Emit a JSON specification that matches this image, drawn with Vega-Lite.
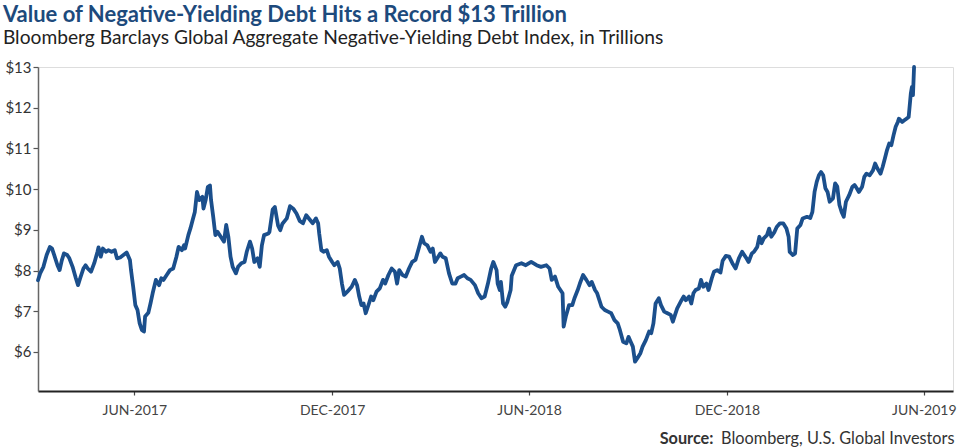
{
  "$schema": "https://vega.github.io/schema/vega-lite/v6.json",
  "width": 915,
  "height": 324,
  "autosize": {"type": "none"},
  "padding": {"left": 38, "top": 67, "right": 7, "bottom": 56},
  "background": "white",
  "title": {
    "text": "Value of Negative-Yielding Debt Hits a Record $13 Trillion",
    "subtitle": "Bloomberg Barclays Global Aggregate Negative-Yielding Debt Index, in Trillions",
    "anchor": "start",
    "frame": "bounds",
    "font": "Lato",
    "fontSize": 22,
    "fontWeight": "bold",
    "color": "#1d4a7c",
    "subtitleFont": "Lato",
    "subtitleFontSize": 19.2,
    "subtitleColor": "#222222",
    "subtitlePadding": 2,
    "offset": 11,
    "dx": -2
  },
  "data": {
    "values": [
      {"date": "2017-03-18", "value": 7.76},
      {"date": "2017-03-20", "value": 7.93},
      {"date": "2017-03-23", "value": 8.09},
      {"date": "2017-03-26", "value": 8.38},
      {"date": "2017-03-29", "value": 8.58},
      {"date": "2017-03-31", "value": 8.54},
      {"date": "2017-04-02", "value": 8.38},
      {"date": "2017-04-05", "value": 8.13},
      {"date": "2017-04-07", "value": 8.01},
      {"date": "2017-04-09", "value": 8.25},
      {"date": "2017-04-11", "value": 8.42},
      {"date": "2017-04-14", "value": 8.38},
      {"date": "2017-04-16", "value": 8.30},
      {"date": "2017-04-19", "value": 8.09},
      {"date": "2017-04-22", "value": 7.81},
      {"date": "2017-04-24", "value": 7.64},
      {"date": "2017-04-26", "value": 7.81},
      {"date": "2017-04-29", "value": 8.05},
      {"date": "2017-05-01", "value": 8.13},
      {"date": "2017-05-03", "value": 8.05},
      {"date": "2017-05-06", "value": 7.97},
      {"date": "2017-05-09", "value": 8.18},
      {"date": "2017-05-12", "value": 8.46},
      {"date": "2017-05-13", "value": 8.57},
      {"date": "2017-05-15", "value": 8.34},
      {"date": "2017-05-17", "value": 8.54},
      {"date": "2017-05-20", "value": 8.46},
      {"date": "2017-05-22", "value": 8.50},
      {"date": "2017-05-25", "value": 8.46},
      {"date": "2017-05-28", "value": 8.50},
      {"date": "2017-05-30", "value": 8.30},
      {"date": "2017-06-02", "value": 8.32},
      {"date": "2017-06-05", "value": 8.38},
      {"date": "2017-06-08", "value": 8.44},
      {"date": "2017-06-11", "value": 8.26},
      {"date": "2017-06-12", "value": 8.01},
      {"date": "2017-06-14", "value": 7.60},
      {"date": "2017-06-16", "value": 7.15},
      {"date": "2017-06-18", "value": 7.03},
      {"date": "2017-06-20", "value": 6.70},
      {"date": "2017-06-22", "value": 6.54},
      {"date": "2017-06-24", "value": 6.50},
      {"date": "2017-06-25", "value": 6.87},
      {"date": "2017-06-28", "value": 6.96},
      {"date": "2017-06-30", "value": 7.19},
      {"date": "2017-07-02", "value": 7.44},
      {"date": "2017-07-05", "value": 7.77},
      {"date": "2017-07-08", "value": 7.64},
      {"date": "2017-07-10", "value": 7.81},
      {"date": "2017-07-12", "value": 7.77},
      {"date": "2017-07-15", "value": 7.89},
      {"date": "2017-07-18", "value": 8.01},
      {"date": "2017-07-21", "value": 8.05},
      {"date": "2017-07-24", "value": 8.34},
      {"date": "2017-07-26", "value": 8.58},
      {"date": "2017-07-29", "value": 8.50},
      {"date": "2017-07-31", "value": 8.62},
      {"date": "2017-08-01", "value": 8.54},
      {"date": "2017-08-04", "value": 8.87},
      {"date": "2017-08-06", "value": 9.04},
      {"date": "2017-08-08", "value": 9.24},
      {"date": "2017-08-10", "value": 9.44},
      {"date": "2017-08-12", "value": 9.93},
      {"date": "2017-08-14", "value": 9.73},
      {"date": "2017-08-17", "value": 9.81},
      {"date": "2017-08-18", "value": 9.52},
      {"date": "2017-08-20", "value": 9.73},
      {"date": "2017-08-22", "value": 10.05},
      {"date": "2017-08-24", "value": 10.09},
      {"date": "2017-08-25", "value": 9.73},
      {"date": "2017-08-27", "value": 9.32},
      {"date": "2017-08-29", "value": 8.87},
      {"date": "2017-08-31", "value": 8.95},
      {"date": "2017-09-03", "value": 8.83},
      {"date": "2017-09-06", "value": 8.71},
      {"date": "2017-09-08", "value": 9.12},
      {"date": "2017-09-10", "value": 8.83},
      {"date": "2017-09-12", "value": 8.34},
      {"date": "2017-09-14", "value": 8.09},
      {"date": "2017-09-17", "value": 7.93},
      {"date": "2017-09-19", "value": 8.09},
      {"date": "2017-09-22", "value": 8.18},
      {"date": "2017-09-25", "value": 8.21},
      {"date": "2017-09-27", "value": 8.46},
      {"date": "2017-09-30", "value": 8.71},
      {"date": "2017-10-02", "value": 8.54},
      {"date": "2017-10-04", "value": 8.21},
      {"date": "2017-10-07", "value": 8.30},
      {"date": "2017-10-09", "value": 8.09},
      {"date": "2017-10-11", "value": 8.62},
      {"date": "2017-10-13", "value": 8.87},
      {"date": "2017-10-17", "value": 8.91},
      {"date": "2017-10-18", "value": 8.95},
      {"date": "2017-10-21", "value": 9.50},
      {"date": "2017-10-23", "value": 9.56},
      {"date": "2017-10-26", "value": 9.10},
      {"date": "2017-10-28", "value": 8.99},
      {"date": "2017-10-30", "value": 9.15},
      {"date": "2017-11-03", "value": 9.28},
      {"date": "2017-11-06", "value": 9.58},
      {"date": "2017-11-09", "value": 9.52},
      {"date": "2017-11-12", "value": 9.40},
      {"date": "2017-11-15", "value": 9.22},
      {"date": "2017-11-18", "value": 9.16},
      {"date": "2017-11-21", "value": 9.36},
      {"date": "2017-11-24", "value": 9.26},
      {"date": "2017-11-27", "value": 9.16},
      {"date": "2017-11-30", "value": 9.28},
      {"date": "2017-12-02", "value": 9.16},
      {"date": "2017-12-03", "value": 8.91},
      {"date": "2017-12-05", "value": 8.50},
      {"date": "2017-12-07", "value": 8.46},
      {"date": "2017-12-10", "value": 8.50},
      {"date": "2017-12-12", "value": 8.34},
      {"date": "2017-12-15", "value": 8.21},
      {"date": "2017-12-17", "value": 8.13},
      {"date": "2017-12-20", "value": 8.21},
      {"date": "2017-12-22", "value": 8.05},
      {"date": "2017-12-24", "value": 7.68},
      {"date": "2017-12-26", "value": 7.40},
      {"date": "2017-12-29", "value": 7.48},
      {"date": "2018-01-02", "value": 7.60},
      {"date": "2018-01-05", "value": 7.77},
      {"date": "2018-01-07", "value": 7.64},
      {"date": "2018-01-09", "value": 7.36},
      {"date": "2018-01-11", "value": 7.15},
      {"date": "2018-01-13", "value": 7.19},
      {"date": "2018-01-15", "value": 6.95},
      {"date": "2018-01-18", "value": 7.19},
      {"date": "2018-01-20", "value": 7.36},
      {"date": "2018-01-22", "value": 7.27},
      {"date": "2018-01-25", "value": 7.48},
      {"date": "2018-01-28", "value": 7.56},
      {"date": "2018-01-31", "value": 7.77},
      {"date": "2018-02-02", "value": 7.68},
      {"date": "2018-02-05", "value": 7.89},
      {"date": "2018-02-08", "value": 8.05},
      {"date": "2018-02-11", "value": 7.97},
      {"date": "2018-02-13", "value": 7.68},
      {"date": "2018-02-15", "value": 8.01},
      {"date": "2018-02-18", "value": 7.89},
      {"date": "2018-02-21", "value": 7.85},
      {"date": "2018-02-24", "value": 8.05},
      {"date": "2018-02-27", "value": 8.21},
      {"date": "2018-03-02", "value": 8.26},
      {"date": "2018-03-05", "value": 8.54},
      {"date": "2018-03-08", "value": 8.83},
      {"date": "2018-03-10", "value": 8.67},
      {"date": "2018-03-13", "value": 8.62},
      {"date": "2018-03-16", "value": 8.46},
      {"date": "2018-03-18", "value": 8.54},
      {"date": "2018-03-20", "value": 8.21},
      {"date": "2018-03-23", "value": 8.34},
      {"date": "2018-03-25", "value": 8.42},
      {"date": "2018-03-27", "value": 8.34},
      {"date": "2018-03-30", "value": 8.30},
      {"date": "2018-04-02", "value": 7.93},
      {"date": "2018-04-05", "value": 7.68},
      {"date": "2018-04-08", "value": 7.68},
      {"date": "2018-04-10", "value": 7.81},
      {"date": "2018-04-13", "value": 7.85},
      {"date": "2018-04-16", "value": 7.89},
      {"date": "2018-04-19", "value": 7.81},
      {"date": "2018-04-22", "value": 7.77},
      {"date": "2018-04-26", "value": 7.64},
      {"date": "2018-04-29", "value": 7.44},
      {"date": "2018-05-02", "value": 7.32},
      {"date": "2018-05-05", "value": 7.36},
      {"date": "2018-05-08", "value": 7.68},
      {"date": "2018-05-11", "value": 8.05},
      {"date": "2018-05-13", "value": 8.21},
      {"date": "2018-05-16", "value": 8.01},
      {"date": "2018-05-17", "value": 7.68},
      {"date": "2018-05-19", "value": 7.52},
      {"date": "2018-05-20", "value": 7.72},
      {"date": "2018-05-22", "value": 7.19},
      {"date": "2018-05-24", "value": 7.11},
      {"date": "2018-05-26", "value": 7.23},
      {"date": "2018-05-29", "value": 7.52},
      {"date": "2018-05-30", "value": 7.87},
      {"date": "2018-06-03", "value": 8.13},
      {"date": "2018-06-08", "value": 8.18},
      {"date": "2018-06-12", "value": 8.13},
      {"date": "2018-06-17", "value": 8.21},
      {"date": "2018-06-22", "value": 8.13},
      {"date": "2018-06-26", "value": 8.09},
      {"date": "2018-07-01", "value": 8.13},
      {"date": "2018-07-04", "value": 8.05},
      {"date": "2018-07-06", "value": 7.77},
      {"date": "2018-07-09", "value": 7.85},
      {"date": "2018-07-12", "value": 7.60},
      {"date": "2018-07-14", "value": 7.52},
      {"date": "2018-07-16", "value": 7.44},
      {"date": "2018-07-17", "value": 6.62},
      {"date": "2018-07-19", "value": 6.87},
      {"date": "2018-07-22", "value": 7.15},
      {"date": "2018-07-25", "value": 7.15},
      {"date": "2018-07-27", "value": 7.32},
      {"date": "2018-07-30", "value": 7.52},
      {"date": "2018-08-01", "value": 7.68},
      {"date": "2018-08-04", "value": 7.89},
      {"date": "2018-08-07", "value": 7.77},
      {"date": "2018-08-10", "value": 7.64},
      {"date": "2018-08-12", "value": 7.72},
      {"date": "2018-08-15", "value": 7.52},
      {"date": "2018-08-17", "value": 7.44},
      {"date": "2018-08-21", "value": 7.11},
      {"date": "2018-08-24", "value": 7.03},
      {"date": "2018-08-27", "value": 6.99},
      {"date": "2018-08-30", "value": 6.95},
      {"date": "2018-09-02", "value": 6.78},
      {"date": "2018-09-05", "value": 6.70},
      {"date": "2018-09-07", "value": 6.54},
      {"date": "2018-09-10", "value": 6.25},
      {"date": "2018-09-13", "value": 6.21},
      {"date": "2018-09-15", "value": 6.37},
      {"date": "2018-09-17", "value": 6.25},
      {"date": "2018-09-19", "value": 6.13},
      {"date": "2018-09-21", "value": 5.76},
      {"date": "2018-09-23", "value": 5.84},
      {"date": "2018-09-26", "value": 5.97},
      {"date": "2018-09-28", "value": 6.13},
      {"date": "2018-10-01", "value": 6.29},
      {"date": "2018-10-04", "value": 6.50},
      {"date": "2018-10-06", "value": 6.46},
      {"date": "2018-10-08", "value": 6.70},
      {"date": "2018-10-10", "value": 7.19},
      {"date": "2018-10-13", "value": 7.32},
      {"date": "2018-10-15", "value": 7.15},
      {"date": "2018-10-18", "value": 6.99},
      {"date": "2018-10-21", "value": 6.95},
      {"date": "2018-10-24", "value": 6.91},
      {"date": "2018-10-26", "value": 6.74},
      {"date": "2018-10-28", "value": 6.91},
      {"date": "2018-10-30", "value": 7.07},
      {"date": "2018-11-03", "value": 7.27},
      {"date": "2018-11-05", "value": 7.36},
      {"date": "2018-11-07", "value": 7.27},
      {"date": "2018-11-10", "value": 7.36},
      {"date": "2018-11-12", "value": 7.19},
      {"date": "2018-11-14", "value": 7.44},
      {"date": "2018-11-16", "value": 7.52},
      {"date": "2018-11-19", "value": 7.56},
      {"date": "2018-11-21", "value": 7.77},
      {"date": "2018-11-23", "value": 7.60},
      {"date": "2018-11-26", "value": 7.68},
      {"date": "2018-11-28", "value": 7.52},
      {"date": "2018-12-01", "value": 7.81},
      {"date": "2018-12-03", "value": 7.97},
      {"date": "2018-12-06", "value": 8.01},
      {"date": "2018-12-09", "value": 7.95},
      {"date": "2018-12-11", "value": 8.24},
      {"date": "2018-12-14", "value": 8.36},
      {"date": "2018-12-17", "value": 8.34},
      {"date": "2018-12-20", "value": 8.18},
      {"date": "2018-12-23", "value": 8.05},
      {"date": "2018-12-26", "value": 8.30},
      {"date": "2018-12-29", "value": 8.46},
      {"date": "2019-01-02", "value": 8.30},
      {"date": "2019-01-04", "value": 8.21},
      {"date": "2019-01-07", "value": 8.42},
      {"date": "2019-01-09", "value": 8.46},
      {"date": "2019-01-12", "value": 8.58},
      {"date": "2019-01-14", "value": 8.83},
      {"date": "2019-01-16", "value": 8.67},
      {"date": "2019-01-18", "value": 8.79},
      {"date": "2019-01-21", "value": 8.87},
      {"date": "2019-01-23", "value": 9.03},
      {"date": "2019-01-25", "value": 8.83},
      {"date": "2019-01-28", "value": 8.95},
      {"date": "2019-01-30", "value": 9.07},
      {"date": "2019-02-02", "value": 9.16},
      {"date": "2019-02-05", "value": 9.16},
      {"date": "2019-02-08", "value": 9.03},
      {"date": "2019-02-10", "value": 8.83},
      {"date": "2019-02-11", "value": 8.46},
      {"date": "2019-02-14", "value": 8.38},
      {"date": "2019-02-16", "value": 8.42},
      {"date": "2019-02-18", "value": 9.03},
      {"date": "2019-02-21", "value": 9.12},
      {"date": "2019-02-23", "value": 9.28},
      {"date": "2019-02-27", "value": 9.32},
      {"date": "2019-03-02", "value": 9.29},
      {"date": "2019-03-04", "value": 9.44},
      {"date": "2019-03-06", "value": 9.93},
      {"date": "2019-03-08", "value": 10.18},
      {"date": "2019-03-10", "value": 10.34},
      {"date": "2019-03-12", "value": 10.42},
      {"date": "2019-03-14", "value": 10.34},
      {"date": "2019-03-16", "value": 10.02},
      {"date": "2019-03-18", "value": 9.93},
      {"date": "2019-03-20", "value": 9.69},
      {"date": "2019-03-23", "value": 9.77},
      {"date": "2019-03-25", "value": 10.14},
      {"date": "2019-03-27", "value": 10.06},
      {"date": "2019-03-29", "value": 9.61},
      {"date": "2019-03-31", "value": 9.44},
      {"date": "2019-04-02", "value": 9.32},
      {"date": "2019-04-04", "value": 9.69},
      {"date": "2019-04-07", "value": 9.85},
      {"date": "2019-04-10", "value": 10.06},
      {"date": "2019-04-12", "value": 10.10},
      {"date": "2019-04-14", "value": 10.02},
      {"date": "2019-04-16", "value": 9.93},
      {"date": "2019-04-19", "value": 10.06},
      {"date": "2019-04-21", "value": 10.30},
      {"date": "2019-04-23", "value": 10.38},
      {"date": "2019-04-26", "value": 10.34},
      {"date": "2019-04-29", "value": 10.46},
      {"date": "2019-05-01", "value": 10.63},
      {"date": "2019-05-03", "value": 10.51},
      {"date": "2019-05-06", "value": 10.38},
      {"date": "2019-05-08", "value": 10.55},
      {"date": "2019-05-10", "value": 10.75},
      {"date": "2019-05-12", "value": 10.96},
      {"date": "2019-05-14", "value": 11.12},
      {"date": "2019-05-16", "value": 11.08},
      {"date": "2019-05-18", "value": 11.32},
      {"date": "2019-05-20", "value": 11.53},
      {"date": "2019-05-22", "value": 11.65},
      {"date": "2019-05-23", "value": 11.73},
      {"date": "2019-05-26", "value": 11.65},
      {"date": "2019-05-28", "value": 11.69},
      {"date": "2019-05-30", "value": 11.73},
      {"date": "2019-06-01", "value": 11.77},
      {"date": "2019-06-03", "value": 12.35},
      {"date": "2019-06-04", "value": 12.51},
      {"date": "2019-06-05", "value": 12.31},
      {"date": "2019-06-06", "value": 13.0}
    ]
  },
  "layer": [
    {
      "mark": {"type": "line", "color": "#1b4f8c", "strokeWidth": 3.8, "strokeJoin": "round", "strokeCap": "round"},
      "encoding": {
        "x": {
          "field": "date",
          "type": "temporal",
          "scale": {
            "type": "utc",
            "domain": [
              {"year": 2017, "month": 3, "date": 18, "utc": true},
              {"year": 2019, "month": 7, "date": 12, "utc": true}
            ]
          },
          "axis": {
            "values": [
              {"year": 2017, "month": 6, "date": 15, "utc": true},
              {"year": 2017, "month": 12, "date": 15, "utc": true},
              {"year": 2018, "month": 6, "date": 15, "utc": true},
              {"year": 2018, "month": 12, "date": 15, "utc": true},
              {"year": 2019, "month": 6, "date": 15, "utc": true}
            ],
            "labelExpr": "upper(utcFormat(datum.value, '%b-%Y'))",
            "grid": false,
            "domainColor": "#222222",
            "domainWidth": 2,
            "tickColor": "#444444",
            "tickSize": 4,
            "tickWidth": 1.2,
            "labelFont": "Lato",
            "labelFontSize": 14,
            "labelColor": "#444444",
            "labelPadding": 8,
            "labelFlush": false,
            "title": "Bloomberg, U.S. Global Investors",
            "titleFont": "Lato",
            "titleFontSize": 16.3,
            "titleFontWeight": "normal",
            "titleColor": "#333333",
            "titleAlign": "right",
            "titleAnchor": null,
            "titleBaseline": "alphabetic",
            "titleX": 916,
            "titleY": 52
          }
        },
        "y": {
          "field": "value",
          "type": "quantitative",
          "scale": {"domain": [5.04, 13], "nice": false, "zero": false},
          "axis": {
            "values": [6, 7, 8, 9, 10, 11, 12, 13],
            "labelExpr": "'$' + datum.value",
            "grid": false,
            "domainColor": "#666666",
            "domainWidth": 1.5,
            "tickColor": "#555555",
            "tickSize": 5,
            "tickWidth": 1.2,
            "labelFont": "Lato",
            "labelFontSize": 15,
            "labelColor": "#333333",
            "labelPadding": 2,
            "title": null
          }
        }
      }
    },
    {
      "mark": {"type": "line", "strokeOpacity": 0},
      "encoding": {
        "x": {"field": "date", "type": "temporal"},
        "y": {
          "field": "value",
          "type": "quantitative",
          "axis": {
            "orient": "right",
            "domain": false,
            "ticks": false,
            "labels": false,
            "grid": false,
            "title": "Source:",
            "titleFont": "Lato",
            "titleFontSize": 16.3,
            "titleFontWeight": "bold",
            "titleColor": "#333333",
            "titleAngle": 0,
            "titleAlign": "right",
            "titleBaseline": "alphabetic",
            "titleX": -240,
            "titleY": 376
          }
        }
      }
    }
  ],
  "resolve": {"axis": {"y": "independent"}}
}
